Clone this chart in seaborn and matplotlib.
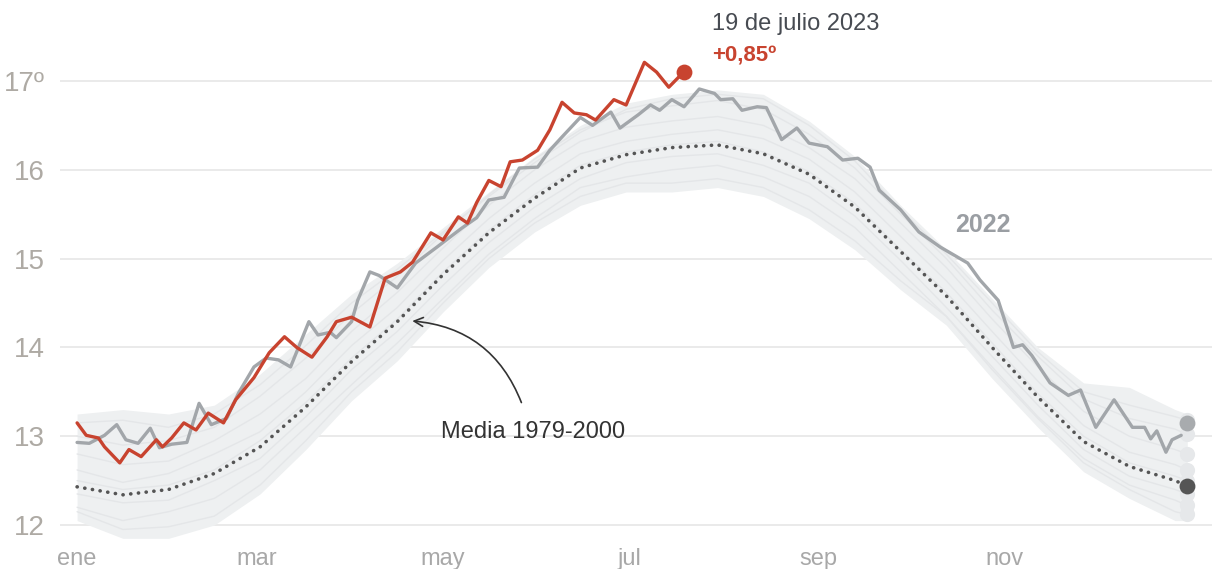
import numpy as np
import pandas as pd
import matplotlib
matplotlib.use('Agg')
import matplotlib.pyplot as plt
import seaborn as sns

# --- data ---
# 2023 daily temperature, up to 19 July (day of year, 0 = 1 Jan)
days_2023 = [0, 3, 7, 9, 14, 17, 21, 26, 28, 31, 35, 39, 43, 48, 52, 58, 63, 68, 72, 77,
             82, 85, 90, 96, 101, 106, 110, 116, 120, 125, 128, 131, 135, 139, 142, 146,
             151, 155, 159, 163, 167, 170, 176, 180, 186, 190, 194, 198, 199]
temp_2023 = [13.15, 13.01, 12.98, 12.88, 12.70, 12.85, 12.77, 12.96, 12.88, 12.98, 13.15, 13.07,
             13.26, 13.15, 13.41, 13.66, 13.94, 14.12, 14.00, 13.89, 14.12, 14.29, 14.34, 14.23,
             14.78, 14.85, 14.96, 15.29, 15.21, 15.47, 15.40, 15.63, 15.88, 15.81, 16.09, 16.11,
             16.22, 16.45, 16.76, 16.64, 16.62, 16.56, 16.79, 16.73, 17.21, 17.10, 16.93, 17.07, 17.10]

days_2022 = [0, 4, 9, 13, 16, 20, 24, 27, 31, 36, 40, 44, 49, 53, 58, 62, 66, 70, 76, 79,
             83, 85, 90, 92, 96, 99, 105, 111, 118, 126, 131, 135, 140, 145, 151, 155, 159,
             165, 169, 175, 178, 184, 188, 191, 195, 199, 204, 209, 211, 215, 218, 223, 226,
             231, 236, 240, 246, 251, 256, 260, 263, 270, 276, 283, 292, 296, 302, 307, 310,
             313, 319, 325, 329, 334, 340, 346, 350, 352, 354, 357, 359, 362]
temp_2022 = [12.93, 12.92, 13.01, 13.13, 12.96, 12.92, 13.09, 12.87, 12.91, 12.93, 13.37, 13.13,
             13.20, 13.49, 13.78, 13.88, 13.86, 13.78, 14.29, 14.14, 14.17, 14.11, 14.29, 14.53,
             14.85, 14.81, 14.67, 14.95, 15.13, 15.34, 15.46, 15.66, 15.69, 16.02, 16.03, 16.22,
             16.37, 16.59, 16.50, 16.65, 16.47, 16.62, 16.73, 16.67, 16.79, 16.71, 16.91, 16.86,
             16.79, 16.80, 16.67, 16.71, 16.70, 16.34, 16.47, 16.30, 16.26, 16.11, 16.13, 16.03,
             15.77, 15.55, 15.30, 15.13, 14.95, 14.76, 14.53, 14.00, 14.03, 13.91, 13.60, 13.46,
             13.52, 13.10, 13.41, 13.10, 13.10, 12.97, 13.06, 12.82, 12.96, 13.01]
end_2022 = 13.15

# sample days for the smooth / background series
sample_days = [0, 15, 30, 45, 60, 75, 90, 105, 120, 135, 150, 165, 180, 195, 210, 225,
               240, 255, 270, 285, 300, 315, 330, 345, 360, 364]
mean_7900 = [12.43, 12.34, 12.40, 12.58, 12.88, 13.33, 13.84, 14.29, 14.82, 15.29, 15.68, 16.02,
             16.17, 16.25, 16.28, 16.18, 15.95, 15.58, 15.08, 14.58, 14.00, 13.44, 12.94, 12.66,
             12.50, 12.44]
band_top = [13.25, 13.30, 13.25, 13.35, 13.70, 14.15, 14.60, 14.95, 15.35, 15.75, 16.15, 16.50,
            16.75, 16.85, 16.90, 16.85, 16.55, 16.15, 15.60, 15.10, 14.55, 14.00, 13.60, 13.55,
            13.30, 13.25]
band_bottom = [12.05, 11.85, 11.85, 12.00, 12.35, 12.85, 13.40, 13.85, 14.40, 14.90, 15.30, 15.60,
               15.75, 15.75, 15.80, 15.70, 15.45, 15.10, 14.65, 14.25, 13.65, 13.10, 12.60, 12.30,
               12.05, 12.05]
bg_a = [12.15, 11.95, 11.98, 12.10, 12.45, 12.95, 13.50, 13.95, 14.50, 15.00, 15.40, 15.70, 15.85,
        15.85, 15.90, 15.80, 15.55, 15.20, 14.75, 14.35, 13.75, 13.20, 12.70, 12.40, 12.15, 12.12]
bg_b = [12.20, 12.05, 12.15, 12.30, 12.62, 13.10, 13.58, 14.05, 14.55, 15.05, 15.45, 15.80, 15.92,
        16.00, 16.05, 15.92, 15.70, 15.35, 14.85, 14.35, 13.78, 13.22, 12.75, 12.45, 12.28, 12.22]
bg_c = [12.35, 12.25, 12.28, 12.50, 12.75, 13.22, 13.75, 14.18, 14.70, 15.18, 15.58, 15.90, 16.08,
        16.15, 16.18, 16.05, 15.85, 15.48, 14.98, 14.45, 13.90, 13.35, 12.85, 12.55, 12.40, 12.35]
bg_d = [12.50, 12.40, 12.45, 12.62, 12.95, 13.38, 13.88, 14.32, 14.85, 15.32, 15.72, 16.05, 16.20,
        16.28, 16.32, 16.20, 15.98, 15.62, 15.10, 14.62, 14.05, 13.48, 13.00, 12.70, 12.55, 12.50]
bg_e = [12.62, 12.48, 12.58, 12.80, 13.05, 13.50, 14.02, 14.45, 14.98, 15.45, 15.85, 16.18, 16.32,
        16.40, 16.45, 16.35, 16.12, 15.75, 15.25, 14.75, 14.18, 13.62, 13.12, 12.82, 12.68, 12.62]
bg_f = [12.80, 12.68, 12.72, 12.95, 13.25, 13.65, 14.18, 14.62, 15.12, 15.60, 16.00, 16.32, 16.48,
        16.55, 16.60, 16.50, 16.25, 15.90, 15.40, 14.90, 14.32, 13.78, 13.28, 13.00, 12.85, 12.80]
bg_g = [13.00, 12.90, 12.95, 13.10, 13.45, 13.88, 14.38, 14.80, 15.28, 15.72, 16.12, 16.45, 16.65,
        16.72, 16.78, 16.68, 16.40, 16.02, 15.50, 15.00, 14.42, 13.90, 13.42, 13.20, 13.08, 13.02]
bg_h = [13.15, 13.18, 13.10, 13.25, 13.58, 14.02, 14.50, 14.88, 15.30, 15.70, 16.08, 16.42, 16.68,
        16.80, 16.85, 16.80, 16.50, 16.10, 15.55, 15.05, 14.50, 13.95, 13.50, 13.35, 13.22, 13.18]

month_days = [0, 59, 120, 181, 243, 304]
month_labels = ['ene', 'mar', 'may', 'jul', 'sep', 'nov']
y_ticks = [12, 13, 14, 15, 16, 17]
y_labels = ['12', '13', '14', '15', '16', '17º']

# --- styling ---
sns.set_theme(style='white')
plt.rcParams['font.family'] = ['Liberation Sans Narrow', 'Liberation Sans', 'DejaVu Sans']

RED = '#c8432f'
GREY22 = '#a2a6aa'
MEAN = '#555555'
BG = '#e4e6e8'
BAND = '#eef0f1'

fig = plt.figure(figsize=(12.12, 5.69), dpi=100)
ax = fig.add_axes([60 / 1212, 1 - 545 / 569, 1 - 60 / 1212, 545 / 569])

# background years
bg = pd.DataFrame({'day': sample_days * 8,
                   'temp': bg_a + bg_b + bg_c + bg_d + bg_e + bg_f + bg_g + bg_h,
                   'year': np.repeat(list('abcdefgh'), len(sample_days))})
ax.fill_between(sample_days, band_bottom, band_top, color=BAND, lw=0, zorder=1)
sns.lineplot(data=bg, x='day', y='temp', units='year', estimator=None, color=BG,
             lw=1.0, ax=ax, zorder=2, legend=False)
ends = bg[bg['day'] == sample_days[-1]]
ax.scatter(ends['day'], ends['temp'], s=120, color='#e6e8ea', zorder=2, lw=0)

# mean 1979-2000
sns.lineplot(x=sample_days, y=mean_7900, color=MEAN, lw=2.6, ax=ax, zorder=4,
             linestyle=(0, (0.05, 2.1)), dash_capstyle='round')
ax.scatter([sample_days[-1]], [mean_7900[-1]], s=130, color=MEAN, zorder=5, lw=0)

# 2022
sns.lineplot(x=days_2022, y=temp_2022, color=GREY22, lw=2.4, ax=ax, zorder=5)
ax.scatter([364], [end_2022], s=130, color='#a8abae', zorder=5, lw=0)

# 2023
sns.lineplot(x=days_2023, y=temp_2023, color=RED, lw=2.4, ax=ax, zorder=6)
ax.scatter([days_2023[-1]], [temp_2023[-1]], s=130, color=RED, zorder=7, lw=0)

# axes
ax.set_xlim(-5.6, 372.1)
ax.set_ylim(11.775, 17.912)
ax.set_yticks(y_ticks)
ax.set_yticklabels(y_labels)
ax.set_xticks(month_days)
ax.set_xticklabels(month_labels)
ax.tick_params(axis='y', length=0, pad=11, labelsize=20, labelcolor='#aeaaa4')
ax.tick_params(axis='x', length=0, pad=2, labelsize=17, labelcolor='#a8a8a8')
ax.grid(axis='y', color='#e8e8e8', lw=1.3, zorder=0)
ax.grid(axis='x', visible=False)
for s in ax.spines.values():
    s.set_visible(False)
ax.set_xlabel('')
ax.set_ylabel('')

# annotations
ax.text(208.2, 17.64, '19 de julio 2023', fontsize=17, color='#474b52', ha='left', va='center')
ax.text(208.2, 17.28, '+0,85º', fontsize=16, color=RED, ha='left', va='center', fontweight='bold')
ax.text(297, 15.38, '2022', fontsize=18, color='#9a9ea3', ha='center', va='center', fontweight='bold')
ax.text(149.5, 13.05, 'Media 1979-2000', fontsize=17, color='#333333', ha='center', va='center')
ax.annotate('', xy=(109, 14.30), xytext=(146, 13.35),
            arrowprops=dict(arrowstyle='->', connectionstyle='arc3,rad=0.32',
                            color='#333333', lw=1.2, mutation_scale=16))

fig.savefig('out.png', dpi=100)
